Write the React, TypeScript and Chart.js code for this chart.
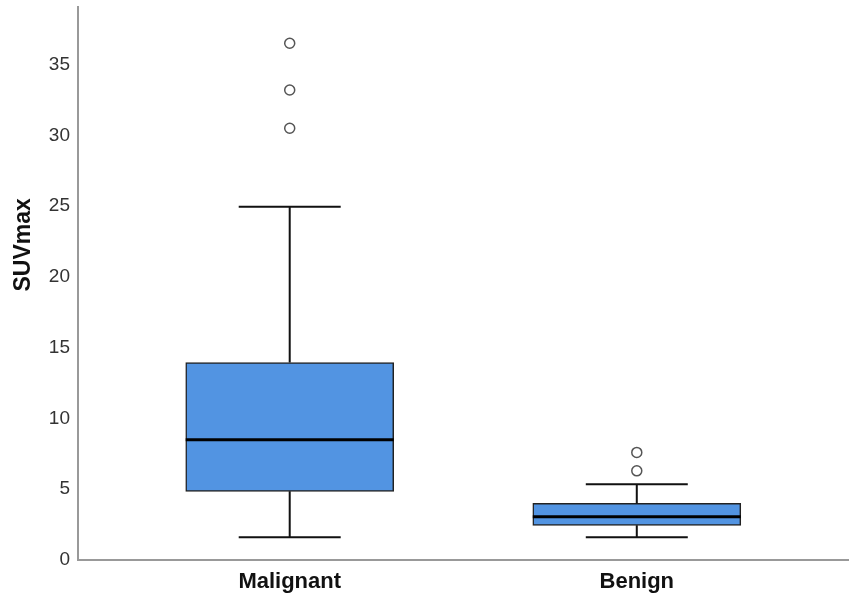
import React, { useEffect, useRef } from "react";
import { Chart, registerables } from "chart.js";

Chart.register(...registerables);

const categories = ["Malignant", "Benign"];
const whiskerLow = [1.6, 1.6];
const q1 = [4.85, 2.45];
const median = [8.5, 3.05];
const q3 = [13.95, 4.0];
const whiskerHigh = [24.95, 5.35];
const outliers = [
  [30.5, 33.2, 36.5],
  [6.3, 7.6],
];
const yTicks = [0, 5, 10, 15, 20, 25, 30, 35];
const yTitle = "SUVmax";

const FONT = "'Liberation Sans', Arial, sans-serif";

const boxPlugin = {
  id: "boxWhiskers",
  afterDatasetsDraw(chart: any) {
    const ctx = chart.ctx;
    const xs = chart.scales.x;
    const ys = chart.scales.y;
    const capHalf = 51;
    const boxHalf = 104;
    ctx.save();
    categories.forEach((_, i) => {
      const cx = xs.getPixelForValue(i);
      const yLo = ys.getPixelForValue(whiskerLow[i]);
      const yQ1 = ys.getPixelForValue(q1[i]);
      const yMed = ys.getPixelForValue(median[i]);
      const yQ3 = ys.getPixelForValue(q3[i]);
      const yHi = ys.getPixelForValue(whiskerHigh[i]);
      ctx.strokeStyle = "#111";
      ctx.lineWidth = 2;
      ctx.beginPath();
      ctx.moveTo(cx, yQ3);
      ctx.lineTo(cx, yHi);
      ctx.moveTo(cx - capHalf, yHi);
      ctx.lineTo(cx + capHalf, yHi);
      ctx.moveTo(cx, yQ1);
      ctx.lineTo(cx, yLo);
      ctx.moveTo(cx - capHalf, yLo);
      ctx.lineTo(cx + capHalf, yLo);
      ctx.stroke();
      ctx.lineWidth = 3;
      ctx.strokeStyle = "#000";
      ctx.beginPath();
      ctx.moveTo(cx - boxHalf, yMed);
      ctx.lineTo(cx + boxHalf, yMed);
      ctx.stroke();
    });
    ctx.restore();
  },
};

export default function App() {
  const ref = useRef<HTMLCanvasElement | null>(null);
  useEffect(() => {
    if (!ref.current) return;
    const outlierPoints: { x: number; y: number }[] = [];
    outliers.forEach((arr, i) => arr.forEach((v) => outlierPoints.push({ x: i, y: v })));
    const chart = new Chart(ref.current, {
      type: "bar",
      data: {
        datasets: [
          {
            type: "bar",
            data: categories.map((_, i) => ({ x: i, y: [q1[i], q3[i]] })) as any,
            backgroundColor: "#5294e2",
            borderColor: "#222",
            borderWidth: 1.5,
            borderSkipped: false,
            barThickness: 208,
          } as any,
          {
            type: "scatter",
            data: outlierPoints,
            pointStyle: "circle",
            pointRadius: 5,
            pointBackgroundColor: "#fff",
            pointBorderColor: "#555",
            pointBorderWidth: 1.5,
          } as any,
        ],
      },
      options: {
        animation: false,
        responsive: false,
        layout: { padding: { top: 3, right: 5, left: 0, bottom: 0 } },
        plugins: { legend: { display: false }, tooltip: { enabled: false } },
        scales: {
          x: {
            type: "linear",
            offset: false,
            min: -0.61,
            max: 1.61,
            grid: { display: false, drawTicks: false, offset: false },
            border: { display: true, color: "#999", width: 2 },
            afterBuildTicks: (s: any) => {
              s.ticks = categories.map((_, i) => ({ value: i }));
            },
            afterFit: (s: any) => {
              s.height = 40;
              s.paddingLeft = 0;
              s.paddingRight = 0;
            },
            ticks: {
              padding: 9,
              color: "#111",
              font: { family: FONT, size: 22, weight: "bold" },
              callback: (v: any) => categories[v] ?? "",
              maxRotation: 0,
            },
          },
          y: {
            type: "linear",
            min: 0,
            max: 39.1,
            grid: { display: false, drawTicks: false },
            border: { display: true, color: "#999", width: 2 },
            afterBuildTicks: (s: any) => {
              s.ticks = yTicks.map((v) => ({ value: v }));
            },
            afterFit: (s: any) => {
              s.width = 78;
              s.paddingTop = 0;
              s.paddingBottom = 0;
            },
            ticks: {
              padding: 8,
              color: "#333",
              font: { family: FONT, size: 19 },
            },
            title: {
              display: true,
              text: "            " + yTitle,
              color: "#111",
              padding: { top: 10, bottom: 0 },
              font: { family: FONT, size: 23, weight: "bold" },
            },
          },
        },
      },
      plugins: [boxPlugin],
    });
    return () => chart.destroy();
  }, []);
  return (
    <div style={{ position: "fixed", left: 0, top: 0, width: 855, height: 600, background: "#fff" }}>
      <canvas ref={ref} width={855} height={600} style={{ width: 855, height: 600 }} />
    </div>
  );
}
